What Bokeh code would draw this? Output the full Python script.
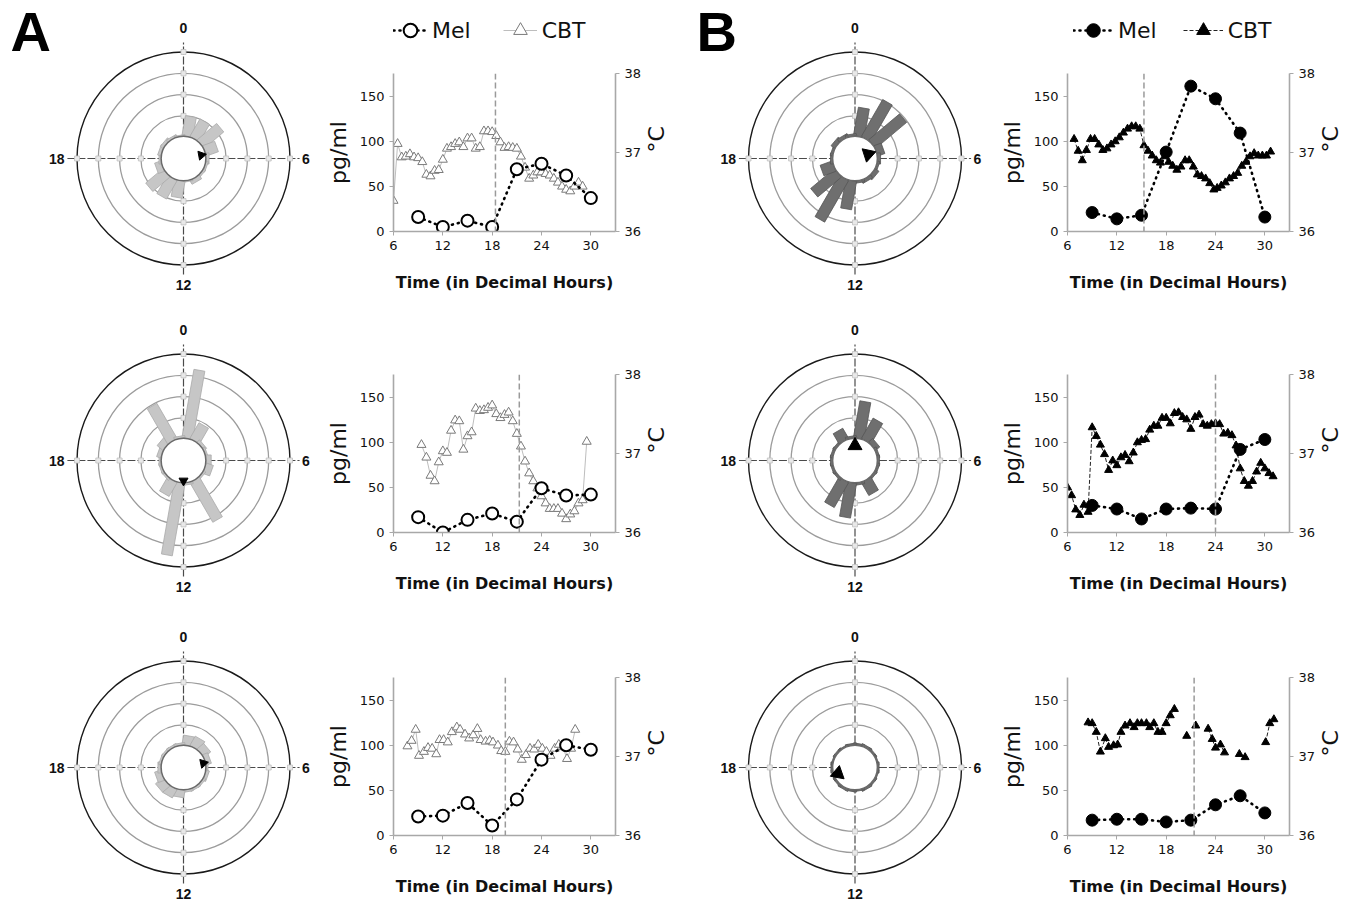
import math
from bokeh.plotting import figure
from bokeh.layouts import row, column
from bokeh.models import Range1d, LinearAxis, FixedTicker, Legend, LegendItem, Span
from bokeh.embed import file_html
from bokeh.resources import INLINE
from bokeh.core.properties import value

NaN = float("nan")

# ---------------- data ----------------
hour_ticks = [6, 12, 18, 24, 30]
pg_ticks = [0, 50, 100, 150]
temp_ticks = [36, 37, 38]
mel_hours = [9, 12, 15, 18, 21, 24, 27, 30]
legend_labels = ["Mel", "CBT"]

mel_a1 = [16, 5, 12, 5, 69, 75, 62, 37]
mel_a2 = [17, 0, 14, 21, 12, 49, 41, 42]
mel_a3 = [21, 22, 36, 11, 40, 84, 100, 95]
mel_b1 = [21, 14, 18, 88, 161, 147, 109, 16]
mel_b2 = [30, 26, 15, 26, 27, 26, 92, 103]
mel_b3 = [17, 18, 18, 15, 17, 34, 44, 25]

onset_a = [18.4, 21.3, 19.6]
onset_b = [15.3, 24.0, 21.4]

cbt_a1_t = [6.0, 6.5, 7.0, 7.5, 8.0, 8.5, 9.0, 9.5, 10.0, 10.5, 11.0, 11.5, 12.0, 12.5, 13.0, 13.5,
            14.0, 14.5, 15.0, 15.5, 16.0, 16.5, 17.0, 17.5, 18.0, 18.5, 19.0, 19.5, 20.0, 20.5, 21.0,
            21.5, 22.0, 22.5, 23.0, 23.5, 24.0, 24.5, 25.0, 25.5, 26.0, 26.5, 27.0, 27.5, 28.0, 28.5, 29.0]
cbt_a1 = [36.39, 37.11, 36.94, 36.95, 36.98, 36.94, 36.93, 36.88, 36.72, 36.70, 36.77, 36.78, 36.91,
          37.05, 37.07, 37.11, 37.13, 37.07, 37.18, 37.18, 37.05, 37.07, 37.27, 37.27, 37.26, 37.21,
          37.13, 37.06, 37.07, 37.06, 37.05, 36.95, 36.81, 36.67, 36.71, 36.75, 36.75, 36.73, 36.71,
          36.67, 36.62, 36.57, 36.53, 36.51, 36.57, 36.62, 36.57]

cbt_a2_t = [9.4, 10.0, 10.5, 11.0, 11.5, 12.0, 12.5, 13.0, 13.5, 14.0, 14.5, 15.0, 15.5, 16.0, 16.5,
            17.0, 17.5, 18.0, 18.5, 19.0, 19.5, 20.0, 20.5, 21.0, 21.5, 22.0, 22.5, 23.0, 23.5, 24.0,
            24.5, 25.0, 25.5, 26.0, 26.5, 27.0, 27.5, 28.0, 28.5, 29.0, 29.5]
cbt_a2 = [37.11, 36.95, 36.72, 36.65, 36.89, 37.03, 37.01, 37.29, 37.42, 37.41, 37.05, 37.22, 37.27,
          37.57, 37.54, 37.55, 37.58, 37.61, 37.50, 37.45, 37.49, 37.52, 37.41, 37.25, 37.09, 36.90,
          36.75, 36.65, 36.56, 36.46, 36.37, 36.30, 36.30, 36.30, 36.24, 36.17, 36.23, 36.27, 36.37,
          36.41, 37.15]

cbt_a3_t = [7.7, 8.2, 8.7, 9.1, 9.7, 10.2, 10.7, 11.2, 11.6, 12.1, 12.6, 13.1, 13.7, 14.1, 14.7, 15.2,
            15.7, 16.2, 16.6, 17.2, 17.7, 18.1, 18.7, 19.1, 19.6, 20.1, 20.6, 21.1, 21.6, 22.1, 22.6,
            23.1, 23.6, 24.1, 24.6, 25.1, 25.6, 26.1, 26.6, 27.1, 27.6, 28.1]
cbt_a3 = [37.13, 37.20, 37.34, 37.01, 37.06, 37.11, 37.10, 37.03, 37.21, 37.21, 37.18, 37.31, 37.37,
          37.34, 37.28, 37.23, 37.27, 37.35, 37.21, 37.19, 37.20, 37.18, 37.14, 37.07, 37.06, 37.19,
          37.18, 37.09, 36.96, 37.02, 37.10, 37.09, 37.15, 37.10, 37.06, 37.01, 37.10, 37.15, 37.12,
          36.97, 37.10, 37.34]

cbt_b1_t = [6.8, 7.3, 7.8, 8.3, 8.8, 9.3, 9.8, 10.3, 10.8, 11.3, 11.8, 12.3, 12.8, 13.3, 13.8, 14.3,
            14.8, 15.3, 15.8, 16.3, 16.8, 17.3, 17.8, 18.3, 18.8, 19.3, 19.8, 20.3, 20.8, 21.3, 21.8,
            22.3, 22.8, 23.3, 23.8, 24.2, 24.7, 25.2, 25.7, 26.2, 26.7, 27.2, 27.7, 28.2, 28.7, 29.2,
            29.7, 30.2, 30.7]
cbt_b1 = [37.17, 37.02, 36.90, 37.03, 37.17, 37.17, 37.10, 37.03, 37.05, 37.10, 37.14, 37.19, 37.25,
          37.30, 37.33, 37.33, 37.30, 37.09, 37.02, 36.96, 36.90, 36.87, 36.95, 36.88, 36.83, 36.78,
          36.82, 36.90, 36.90, 36.82, 36.72, 36.70, 36.67, 36.61, 36.53, 36.55, 36.58, 36.62, 36.67,
          36.70, 36.74, 36.83, 36.88, 36.95, 36.99, 36.96, 36.96, 36.96, 37.01]

cbt_b2_t = [6.0, 6.5, 7.0, 7.5, 8.0, 8.5, 9.0, 9.5, 10.0, 10.5, 11.0, 11.5, 12.0, 12.5, 13.0, 13.5,
            14.0, 14.5, 15.0, 15.5, 16.0, 16.5, 17.0, 17.5, 18.0, 18.5, 19.0, 19.5, 20.0, 20.5, 21.0,
            21.5, 22.0, 22.5, 23.0, 23.5, 24.0, 24.5, 25.0, 25.5, 26.0, 26.5, 27.0, 27.5, 28.0, 28.5,
            29.0, 29.5, 30.0, 30.5, 31.0]
cbt_b2 = [36.57, 36.47, 36.29, 36.22, 36.35, 36.26, 37.33, 37.22, 37.11, 36.99, 36.79, 36.91, 36.85,
          36.95, 36.98, 36.90, 37.01, 37.14, 37.17, 37.18, 37.30, 37.35, 37.35, 37.45, 37.45, 37.38,
          37.51, 37.52, 37.46, 37.43, 37.31, 37.46, 37.49, 37.37, 37.35, 37.37, 37.38, 37.37, 37.25,
          37.26, 37.23, 37.10, 36.81, 36.65, 36.59, 36.65, 36.77, 36.88, 36.81, 36.75, 36.71]

cbt_b3_t = [8.5, 9.0, 9.5, 10.0, 10.6, 11.0, 11.6, 12.1, 12.5, 13.0, 13.6, 14.1, 14.5, 15.0, 15.6, 16.0,
            16.5, 17.0, 17.5, 18.0, 18.5, 19.0, 19.7, 20.5, 21.0, 21.6, 22.3, 23.1, 23.6, 24.0, 24.6,
            25.1, 26.0, 26.9, 27.6, 29.0, 30.1, 30.6, 31.1]
cbt_b3 = [37.43, 37.42, 37.31, 37.06, 37.23, 37.12, 37.14, 37.15, 37.31, 37.39, 37.42, 37.37, 37.42,
          37.42, 37.42, 37.37, 37.42, 37.31, 37.31, 37.42, 37.52, 37.60, NaN, 37.26, NaN, 37.39, NaN,
          37.35, 37.22, 37.11, 37.15, 37.05, NaN, 37.03, 36.99, NaN, 37.18, 37.42, 37.47]

# circular histograms: 18 bins of 20 degrees (centres at 10, 30, ... 350 deg clockwise from 0 h);
# bar length in ring units beyond the central hole
bin_deg = [10 + 20 * k for k in range(18)]
rose_a1 = [0.95, 0.95, 1.2, 0.6, 0.15, 0.1, 0.1, 0.2, 0.05,
           0.8, 1.0, 1.05, 0.3, 0.1, 0.15, 0.15, 0.1, 0.05]
rose_a2 = [3.25, 0.85, 0.15, 0.1, 0.25, 0.35, 0.1, 2.15, 0.1,
           3.45, 0.75, 0.1, 0.1, 0.1, 0.2, 0.35, 1.9, 0.1]
rose_a3 = [0.45, 0.5, 0.4, 0.25, 0.1, 0.15, 0.1, 0.1, 0.1,
           0.35, 0.45, 0.45, 0.3, 0.15, 0.1, 0.1, 0.1, 0.1]
rose_b1 = [1.35, 2.0, 1.9, 0.35, 0.15, 0.1, 0.2, 0.15, 0.1,
           1.35, 2.25, 1.45, 0.6, 0.1, 0.1, 0.2, 0.15, 0.1]
rose_b2 = [1.75, 1.1, 0.25, 0.1, 0.1, 0.1, 0.1, 0.7, 0.1,
           1.65, 1.35, 0.1, 0.1, 0.1, 0.1, 0.1, 0.55, 0.1]
rose_b3 = [0.08, 0.1, 0.08, 0.06, 0.08, 0.06, 0.08, 0.1, 0.06,
           0.08, 0.1, 0.08, 0.06, 0.08, 0.06, 0.08, 0.06, 0.08]

# mean vectors: hour direction, radius (ring units)
vec_a = [(5.3, 0.85), (12.0, 0.95), (5.2, 0.95)]
vec_b = [(4.8, 0.65), (0.0, 0.7), (16.7, 0.85)]

clock_labels = ["0", "6", "12", "18"]
clock_hours = [0, 6, 12, 18]

# ---------------- layout constants ----------------
U = 21.3            # px per ring unit
HOLE = 1.05
row_h = [308, 304, 300]
polar_cy = [158, 152, 155]
line_top = [73, 66, 65]
FRAME_H = 158
LEG_H = 50
col_w = [322, 368, 306, 362]
polar_cx = [183, 164.5]

FONT = "DejaVu Sans"


def polar_panel(width, height, cx, cy, bars, fill, edge, vec, vsize, letter=None):
    p = figure(width=width, height=height,
               x_range=Range1d(-cx / U, (width - cx) / U),
               y_range=Range1d(-(height - cy) / U, cy / U),
               x_axis_location=None, y_axis_location=None,
               output_backend="svg", toolbar_location=None, min_border=0,
               outline_line_color=None, frame_align=False)
    p.grid.visible = False
    p.circle(x=[0, 0, 0], y=[0, 0, 0], radius=[2, 3, 4], fill_color=None,
             line_color="#9c9c9c", line_width=1.3)
    p.circle(x=[0], y=[0], radius=[5], fill_color=None, line_color="#1a1a1a", line_width=1.4)
    p.segment(x0=[-5.45, 0], y0=[0, -5.45], x1=[5.45, 0], y1=[0, 5.45],
              line_color="#4a4a4a", line_width=1.2, line_dash="8 2")
    mx, my = [], []
    for r in [2, 3, 4, 5]:
        mx += [0, 0, r, -r]
        my += [r, -r, 0, 0]
    p.scatter(mx, my, marker="square", size=5, fill_color="#e8e8e8", line_color="#c0c0c0",
              line_width=0.8)
    xs, ys, hs, angs = [], [], [], []
    for d, v in zip(bin_deg, bars):
        if v <= 0:
            continue
        th = math.radians(d)
        rc = HOLE + v / 2
        xs.append(rc * math.sin(th))
        ys.append(rc * math.cos(th))
        hs.append(v)
        angs.append(-th)
    p.rect(x=xs, y=ys, width=0.52, height=hs, angle=angs, fill_color=fill,
           line_color=edge, line_width=0.8)
    p.circle(x=[0], y=[0], radius=[HOLE], fill_color="white", line_color="#6a6a6a", line_width=1.5)
    th = math.radians(vec[0] * 15)
    p.scatter([vec[1] * math.sin(th)], [vec[1] * math.cos(th)], marker="triangle", size=vsize,
              angle=-th, fill_color="black", line_color="black")
    lr = {0: 6.15, 6: 5.75, 12: 5.95, 18: 5.95}
    lx = [lr[h] * math.sin(math.radians(h * 15)) for h in clock_hours]
    ly = [lr[h] * math.cos(math.radians(h * 15)) for h in clock_hours]
    p.text(lx, ly, text=clock_labels, text_font=value("Liberation Sans"), text_font_style="bold",
           text_font_size="14px", text_align="center", text_baseline="middle", text_color="#111")
    if letter is not None:
        lxp, lyp = letter[1], letter[2]
        p.text([(lxp - cx) / U], [(cy - lyp) / U], text=[letter[0]],
               text_font=value("Liberation Sans"), text_font_style="bold",
               text_font_size="56px", text_align="left", text_baseline="alphabetic",
               text_color="black")
    return p


def styles(filled):
    if filled:
        return (dict(line_color="#222", line_width=1, line_dash="4 2"),
                dict(marker="triangle", size=8, fill_color="black", line_color="black"),
                dict(line_color="black", line_width=2.6, line_dash="1 5", line_cap="round"),
                dict(marker="circle", size=12, fill_color="black", line_color="black"))
    return (dict(line_color="#bdbdbd", line_width=1),
            dict(marker="triangle", size=9, fill_color="white", line_color="#7a7a7a", line_width=1),
            dict(line_color="black", line_width=2.6, line_dash="1 5", line_cap="round"),
            dict(marker="circle", size=12, fill_color="white", line_color="black", line_width=2))


def legend_panel(width, vx, filled, glyph_w, spacing, mel, cbt_t, cbt):
    # the series are drawn again here only as legend proxies; they lie outside this panel's ranges
    p = figure(width=width, height=LEG_H, x_range=Range1d(0, 1), y_range=Range1d(0, 1),
               x_axis_location=None, y_axis_location=None, output_backend="svg",
               toolbar_location=None, min_border=0, outline_line_color=None, frame_align=False)
    p.grid.visible = False
    cls, css, mls, mss = styles(filled)
    ml = p.line(mel_hours, mel, **mls)
    ms = p.scatter(mel_hours, mel, **mss)
    cl = p.line(cbt_t, cbt, **cls)
    cs = p.scatter(cbt_t, cbt, **css)
    leg = Legend(items=[LegendItem(label=legend_labels[0], renderers=[ml, ms]),
                        LegendItem(label=legend_labels[1], renderers=[cl, cs])],
                 orientation="horizontal", location=(vx, 3), padding=0, margin=0,
                 spacing=spacing, glyph_width=glyph_w, glyph_height=34, label_standoff=5,
                 label_text_font=FONT, label_text_font_size="22px", label_text_color="#111",
                 border_line_color=None, background_fill_alpha=0)
    p.add_layout(leg)
    return p


def line_panel(width, height, bl, br, bt, mel, cbt_t, cbt, onset, filled):
    bb = height - bt - FRAME_H
    p = figure(width=width, height=height, x_range=Range1d(6, 33), y_range=Range1d(0, 175),
               min_border_left=bl, min_border_right=br, min_border_top=bt, min_border_bottom=bb,
               output_backend="svg", toolbar_location=None, outline_line_color=None,
               frame_align=False)
    p.grid.visible = False
    p.xaxis.ticker = FixedTicker(ticks=hour_ticks)
    p.yaxis.ticker = FixedTicker(ticks=pg_ticks)
    p.extra_y_ranges = {"t": Range1d(36, 38)}
    ax_r = LinearAxis(y_range_name="t", ticker=FixedTicker(ticks=temp_ticks), axis_label="°C")
    p.add_layout(ax_r, "right")
    for ax in p.axis:
        ax.axis_line_color = "#a8a8a8"
        ax.axis_line_width = 1.6
        ax.major_tick_line_color = "#a8a8a8"
        ax.major_tick_out = 4
        ax.major_tick_in = 0
        ax.minor_tick_out = 0
        ax.minor_tick_in = 0
        ax.major_label_text_font = FONT
        ax.major_label_text_font_size = "13px"
        ax.major_label_text_color = "#111"
        ax.major_label_standoff = 5
        ax.axis_label_text_font = FONT
        ax.axis_label_text_font_style = "normal"
        ax.axis_label_text_font_size = "22px"
        ax.axis_label_text_color = "#111"
        ax.axis_label_standoff = 6
    ax_r.axis_label_standoff = 12
    try:
        ax_r.axis_label_orientation = math.pi / 2   # read bottom-to-top like the left label
    except Exception:
        ax_r.axis_label_standoff = 1
    p.xaxis.axis_label = "Time (in Decimal Hours)"
    p.xaxis.axis_label_text_font_style = "bold"
    p.xaxis.axis_label_text_font_size = "16px"
    p.xaxis.axis_label_standoff = 20
    p.yaxis[0].axis_label = "pg/ml"

    p.add_layout(Span(location=onset, dimension="height", line_color="#9a9a9a",
                      line_width=1.5, line_dash="6 3"))
    cls, css, mls, mss = styles(filled)
    p.line(cbt_t, cbt, y_range_name="t", **cls)
    p.scatter(cbt_t, cbt, y_range_name="t", **css)
    p.line(mel_hours, mel, **mls)
    p.scatter(mel_hours, mel, **mss)
    return p


mel_a = [mel_a1, mel_a2, mel_a3]
mel_b = [mel_b1, mel_b2, mel_b3]
cbt_a = [(cbt_a1_t, cbt_a1), (cbt_a2_t, cbt_a2), (cbt_a3_t, cbt_a3)]
cbt_b = [(cbt_b1_t, cbt_b1), (cbt_b2_t, cbt_b2), (cbt_b3_t, cbt_b3)]
rose_a = [rose_a1, rose_a2, rose_a3]
rose_b = [rose_b1, rose_b2, rose_b3]

rows = []
for k in range(3):
    h = row_h[k]
    cy = polar_cy[k]
    pa = polar_panel(col_w[0], h, polar_cx[0], cy, rose_a[k], "#c6c6c6", "#a9a9a9", vec_a[k], 9,
                     letter=("A", 10, 31) if k == 0 else None)
    pb = polar_panel(col_w[2], h, polar_cx[1], cy, rose_b[k], "#6f6f6f", "#555555", vec_b[k], 14,
                     letter=("B", 6, 31) if k == 0 else None)
    if k == 0:
        la = column(legend_panel(col_w[1], 71, False, 34, 32, mel_a[k], cbt_a[k][0], cbt_a[k][1]),
                    line_panel(col_w[1], h - LEG_H, 70, 75, line_top[k] - LEG_H, mel_a[k],
                               cbt_a[k][0], cbt_a[k][1], onset_a[k], False))
        lb = column(legend_panel(col_w[3], 77, True, 40, 26, mel_b[k], cbt_b[k][0], cbt_b[k][1]),
                    line_panel(col_w[3], h - LEG_H, 70, 69, line_top[k] - LEG_H, mel_b[k],
                               cbt_b[k][0], cbt_b[k][1], onset_b[k], True))
    else:
        la = line_panel(col_w[1], h, 70, 75, line_top[k], mel_a[k], cbt_a[k][0], cbt_a[k][1],
                        onset_a[k], False)
        lb = line_panel(col_w[3], h, 70, 69, line_top[k], mel_b[k], cbt_b[k][0], cbt_b[k][1],
                        onset_b[k], True)
    rows.append(row(pa, la, pb, lb))

layout = column(*rows)
open("out.html", "w").write(file_html(layout, INLINE))
